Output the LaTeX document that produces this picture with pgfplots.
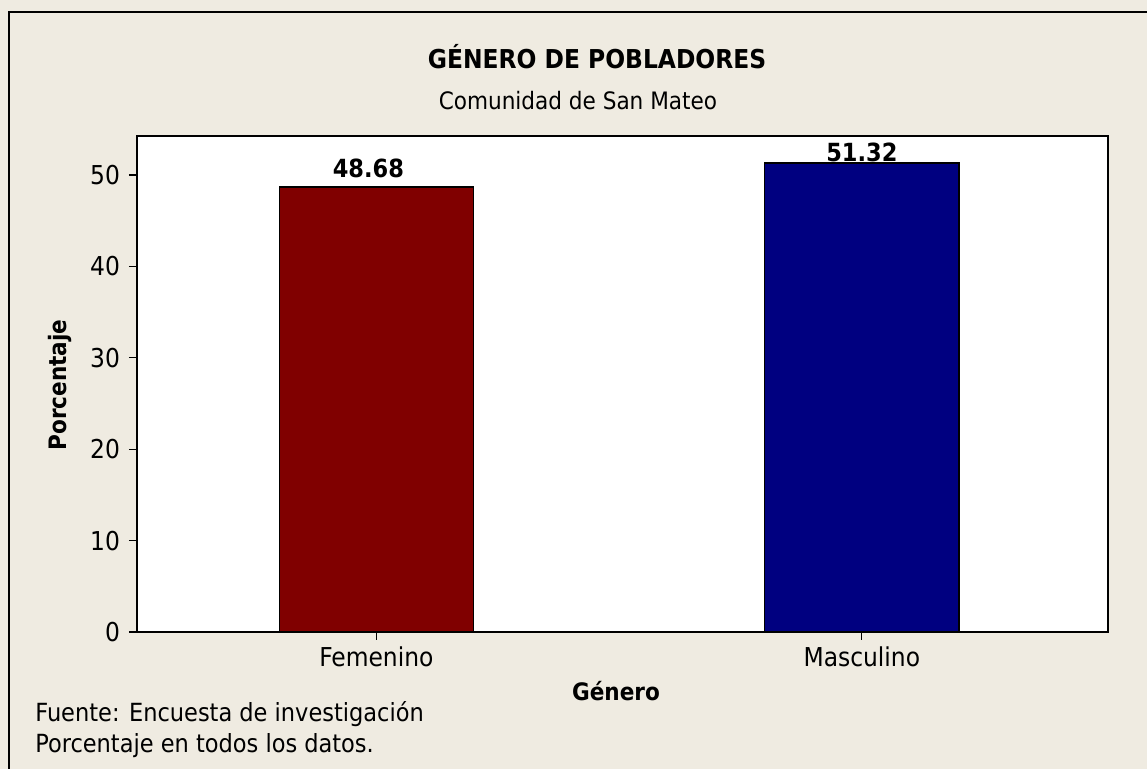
\documentclass[border=0pt]{standalone}
\usepackage{fontspec}
\setmainfont{DejaVu Sans Condensed}
\usepackage{pgfplots}
\pgfplotsset{compat=1.18}
\definecolor{bg}{HTML}{EFEBE1}
\definecolor{fem}{HTML}{800000}
\definecolor{mas}{HTML}{000080}
\begin{document}
\begin{tikzpicture}[x=0.5pt,y=-0.5pt]
\useasboundingbox (0,0) rectangle (1147,769);
\fill[bg] (0,0) rectangle (1147,769);
\draw[line width=1pt] (9,780) -- (9,12) -- (1160,12);
\node[font=\fontsize{13}{15}\selectfont\bfseries] at (597,57) {GÉNERO DE POBLADORES};
\node[font=\fontsize{12}{14}\selectfont] at (578,101) {Comunidad de San Mateo};
\node[font=\fontsize{12}{14}\selectfont\bfseries, rotate=90] at (60,385) {Porcentaje};
\node[font=\fontsize{12}{14}\selectfont\bfseries] at (616,691) {Género};
\node[font=\fontsize{12.5}{14}\selectfont, anchor=west, inner sep=0pt] at (35,714) {Fuente: Encuesta de investigación};
\node[font=\fontsize{12.5}{14}\selectfont, anchor=west, inner sep=0pt] at (35,746) {Porcentaje en todos los datos.};
\begin{axis}[
  at={(68.5pt,-316pt)}, anchor=south west,
  scale only axis, width=485.5pt, height=248pt,
  xmin=-0.493, xmax=1.507, ymin=0, ymax=54.27,
  ytick={0,10,20,30,40,50},
  xtick={0,1}, xticklabels={Femenino,Masculino},
  ytick pos=left, xtick pos=bottom,
  tick align=outside, major tick length=4pt,
  tick style={black, line width=0.6pt},
  axis line style={line width=1pt},
  axis background/.style={fill=white},
  /pgf/number format/assume math mode=true,
  ticklabel style={font=\fontsize{13}{15}\selectfont},
  yticklabel style={xshift=-1pt},
  ybar, bar width=0.4, bar shift=0pt,
  nodes near coords,
  every node near coord/.append style={font=\fontsize{12.5}{14}\selectfont\bfseries, black, /pgf/number format/fixed, /pgf/number format/precision=2, /pgf/number format/fixed zerofill, /pgf/number format/assume math mode=true},
]
\addplot[fill=fem, draw=black, line width=0.6pt, every node near coord/.append style={yshift=1pt, xshift=-4pt}] coordinates {(0,48.68)};
\addplot[fill=mas, draw=black, line width=0.6pt, every node near coord/.append style={yshift=-3pt}] coordinates {(1,51.32)};
\end{axis}
\end{tikzpicture}
\end{document}
